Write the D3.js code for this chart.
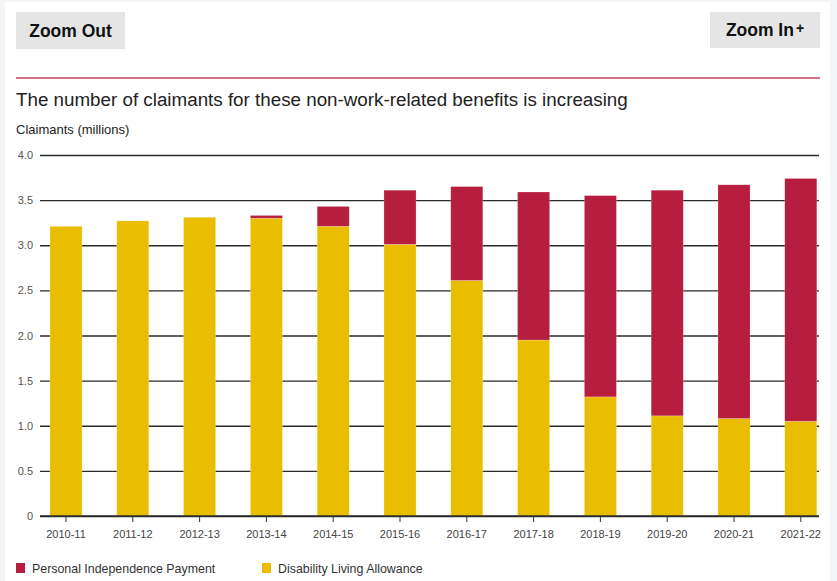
<!DOCTYPE html>
<html>
<head>
<meta charset="utf-8">
<script src="https://cdn.jsdelivr.net/npm/d3@7"></script>
<style>
  html, body { margin: 0; padding: 0; background: #f4f5f7; }
  svg { display: block; }
  text { font-family: "Liberation Sans", Arial, Helvetica, sans-serif; }
</style>
</head>
<body>
<svg id="chart" width="837" height="581"></svg>
<script>
// ---- data ----
const years = ["2010-11","2011-12","2012-13","2013-14","2014-15","2015-16","2016-17","2017-18","2018-19","2019-20","2020-21","2021-22"];
const dla = [3.21, 3.27, 3.31, 3.30, 3.21, 3.01, 2.61, 1.95, 1.32, 1.11, 1.08, 1.05];
const pip = [0, 0, 0, 0.03, 0.22, 0.60, 1.04, 1.64, 2.23, 2.50, 2.59, 2.69];
const yTicks = [0, 0.5, 1.0, 1.5, 2.0, 2.5, 3.0, 3.5, 4.0];
const seriesNames = ["Personal Independence Payment", "Disability Living Allowance"];
const seriesKeys = ["pip", "dla"];
const colors = { pip: "#b71d3e", dla: "#ebbd00" };
const title = "The number of claimants for these non-work-related benefits is increasing";
const yTitle = "Claimants (millions)";

const svg = d3.select("#chart");

// page panel
svg.append("rect").attr("x", 5).attr("y", 2).attr("width", 825).attr("height", 579).attr("fill", "#ffffff");

// buttons
function button(x, y, w, h, label, plus) {
  const g = svg.append("g");
  g.append("rect").attr("x", x).attr("y", y).attr("width", w).attr("height", h).attr("fill", "#e5e5e5");
  const t = g.append("text").attr("x", x + w / 2).attr("y", y + h / 2 + 6)
    .attr("text-anchor", "middle").attr("font-size", 17.5).attr("font-weight", "bold").attr("fill", "#111");
  t.append("tspan").text(label);
  if (plus) t.append("tspan").attr("font-size", 14).attr("font-weight", "bold").attr("dx", 2).attr("dy", -3).text("+");
}
button(16, 12, 109, 37, "Zoom Out", false);
button(710, 12, 110, 36, "Zoom In", true);

// red rule
svg.append("line").attr("x1", 16).attr("x2", 820).attr("y1", 78).attr("y2", 78)
  .attr("stroke", "#c9435f").attr("stroke-width", 1.5);

svg.append("text").attr("x", 16).attr("y", 106).attr("font-size", 18.8).attr("fill", "#222").text(title);
svg.append("text").attr("x", 16).attr("y", 134).attr("font-size", 13).attr("fill", "#222").text(yTitle);

// scales
const y = d3.scaleLinear().domain([0, 4]).range([516, 155]);
const x = d3.scaleBand().domain(years).range([32.6, 834.2]).paddingInner(0.52).paddingOuter(0.26);

// y axis + gridlines
const yAxis = d3.axisLeft(y).tickValues(yTicks).tickSize(-(819 - 40))
  .tickFormat(d => d === 0 ? "0" : d3.format(".1f")(d)).tickPadding(7);
const gy = svg.append("g").attr("transform", "translate(40,0)").call(yAxis);
gy.select(".domain").remove();
gy.selectAll(".tick line").attr("stroke", "#2a2a2a").attr("stroke-width", 1.3);
gy.selectAll(".tick text").attr("font-size", 11).attr("fill", "#555")
  .style("font-family", '"Liberation Sans", Arial, sans-serif');

// stacked bars
const rows = years.map((yr, i) => ({ year: yr, dla: dla[i], pip: pip[i] }));
const stack = d3.stack().keys(["dla", "pip"])(rows);
svg.append("g").selectAll("g").data(stack).join("g")
  .attr("fill", d => colors[d.key])
  .selectAll("rect").data(d => d.filter(s => s[1] - s[0] > 0)).join("rect")
  .attr("x", d => x(d.data.year))
  .attr("width", x.bandwidth())
  .attr("y", d => y(d[1]))
  .attr("height", d => y(d[0]) - y(d[1]))
  .attr("stroke", "#ffffff").attr("stroke-opacity", 0.35).attr("stroke-width", 0.6);

// x axis
const xAxis = d3.axisBottom(x).tickSize(6).tickPadding(8);
const gx = svg.append("g").attr("transform", "translate(0,516)").call(xAxis);
gx.select(".domain").remove();
gx.selectAll(".tick line").attr("stroke", "#333");
gx.selectAll(".tick text").attr("font-size", 11).attr("fill", "#444")
  .style("font-family", '"Liberation Sans", Arial, sans-serif');
svg.append("line").attr("x1", 40).attr("x2", 819).attr("y1", y(0)).attr("y2", y(0))
  .attr("stroke", "#2a2a2a").attr("stroke-width", 1.5);

// legend
const legX = [16, 262];
const lg = svg.append("g").selectAll("g").data(seriesKeys).join("g")
  .attr("transform", (d, i) => `translate(${legX[i]},563)`);
lg.append("rect").attr("width", 9).attr("height", 10).attr("fill", d => colors[d]);
lg.append("text").attr("x", 16).attr("y", 9.5).attr("font-size", 12.4).attr("fill", "#333")
  .text((d, i) => seriesNames[i]);
</script>
</body>
</html>
